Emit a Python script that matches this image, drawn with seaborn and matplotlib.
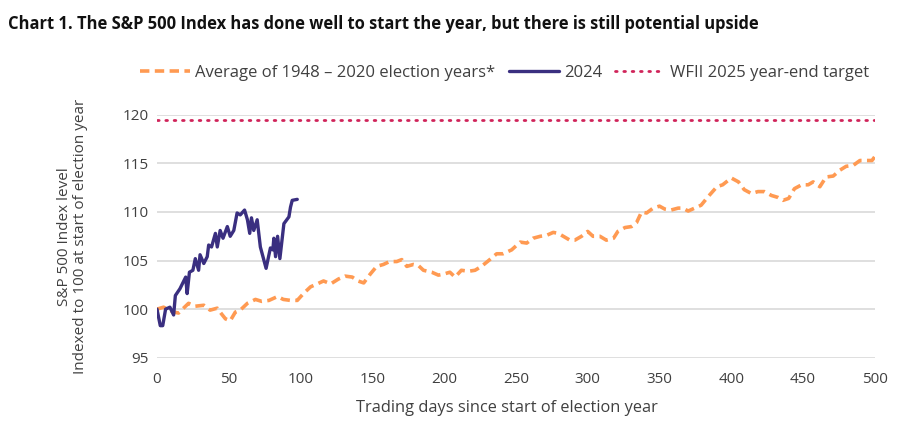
import numpy as np
import pandas as pd
import matplotlib
matplotlib.use('Agg')
import matplotlib.pyplot as plt
import seaborn as sns

# 平均选举年走势 (1948-2020)
avg_days = [0, 4.6, 11.6, 15, 22, 26.7, 32.6, 37, 42, 45, 47.7, 51, 54.6, 58, 63, 68.6, 73, 78, 84, 88,
            93, 97.7, 102, 107, 111.6, 116, 121, 126.4, 131, 136, 140, 144, 148.5, 153, 157.7, 162, 167,
            170.5, 174, 178.6, 182, 185.6, 191.4, 196, 199.5, 204, 207.6, 212, 217, 221.5, 226, 231,
            236.6, 241, 247, 253, 257.5, 262, 267, 271.4, 276, 279.5, 283, 287.6, 291, 295.7, 300,
            303.7, 308.5, 313, 318, 321, 326, 330.5, 334, 337.5, 341, 345.6, 350, 353.7, 358, 363, 366,
            370, 374.5, 379, 384, 390, 394, 400, 405, 409, 414, 418.6, 423, 428, 432.5, 436, 440, 444,
            449, 453.6, 457, 461.7, 466, 471, 475.6, 480, 485, 489.6, 494, 498, 500]
avg_vals = [100, 100.2, 99.7, 99.6, 100.6, 100.3, 100.4, 99.9, 100.1, 99.5, 99.0, 98.8, 99.7, 99.9, 100.6,
            101.0, 100.8, 100.9, 101.3, 101.0, 100.9, 100.9, 101.6, 102.3, 102.6, 102.9, 102.6, 103.1,
            103.4, 103.3, 102.9, 102.7, 103.6, 104.4, 104.6, 104.9, 104.9, 105.1, 104.4, 104.6, 104.5,
            104.0, 103.8, 103.5, 103.6, 103.8, 103.3, 104.0, 103.9, 104.0, 104.4, 105.0, 105.7, 105.7,
            106.1, 106.9, 106.8, 107.3, 107.5, 107.6, 107.9, 107.8, 107.5, 107.1, 107.1, 107.5, 108.0,
            107.5, 107.5, 107.1, 107.3, 108.0, 108.4, 108.5, 108.9, 110.0, 109.9, 110.4, 110.6, 110.3,
            110.2, 110.4, 110.4, 110.1, 110.4, 110.7, 111.6, 112.6, 112.8, 113.5, 113.1, 112.3, 111.9,
            112.1, 112.1, 111.7, 111.5, 111.2, 111.4, 112.4, 112.8, 112.8, 113.1, 112.6, 113.6, 113.7,
            114.3, 114.7, 114.8, 115.3, 115.3, 115.3, 115.7]

# 2024年走势
days_2024 = [0, 2.3, 4, 6, 9, 11.6, 12.8, 16, 20, 21, 22.6, 25, 26.7, 29, 30, 32.6, 35, 36, 38, 40.7, 42,
             44, 46, 49, 51, 53.5, 55.8, 58, 61, 63, 64.6, 65.8, 67.4, 69.8, 72, 76, 79, 80.7, 81.4,
             82.6, 84, 85.6, 88.4, 91.9, 93, 94.2, 97.7]
vals_2024 = [100, 98.3, 98.3, 100, 100.2, 99.4, 101.4, 102.1, 103.3, 101.6, 103.8, 104, 105.2, 104, 105.6,
             104.7, 105.4, 106.6, 106.4, 107.8, 106.4, 108.1, 107.3, 108.5, 107.5, 108.1, 109.9, 109.7,
             110.2, 109.2, 107.8, 109.4, 108.1, 109.2, 106.4, 104.2, 106.3, 106.1, 107.3, 105.4, 107.5,
             105.2, 108.8, 109.5, 110.5, 111.2, 111.3]

target_2025 = 119.5

labels = ['Average of 1948 – 2020 election years*', '2024', 'WFII 2025 year-end target']
colors = ['#FF9A52', '#3A2F80', '#D0245A']

sns.set_theme(style='white')
plt.rcParams['font.family'] = ['Open Sans', 'DejaVu Sans']

fig = plt.figure(figsize=(9.18, 4.4), dpi=100)
ax = fig.add_axes([0.171, 0.187, 0.782, 0.552])

df_avg = pd.DataFrame({'day': avg_days, 'val': avg_vals})
df_24 = pd.DataFrame({'day': days_2024, 'val': vals_2024})

sns.lineplot(data=df_avg, x='day', y='val', ax=ax, color=colors[0], lw=2.6,
             label=labels[0], dashes=False)
ax.lines[-1].set_dashes([2.6, 1.5])
sns.lineplot(data=df_24, x='day', y='val', ax=ax, color=colors[1], lw=2.4, label=labels[1])
ax.axhline(target_2025, xmin=0, xmax=1, color=colors[2], lw=2.0, ls=(0, (0.6, 2.4)),
           dash_capstyle='round', label=labels[2])

ax.set_xlim(0, 500)
ax.set_ylim(95, 120)
ax.set_xticks(np.arange(0, 501, 50))
ax.set_yticks(np.arange(95, 121, 5))
ax.grid(axis='y', color='#d9d9d9', lw=1.2)
ax.set_axisbelow(True)
for s in ax.spines.values():
    s.set_visible(False)
ax.tick_params(axis='both', length=0, labelsize=11, colors='#404040', pad=6)
ax.tick_params(axis='x', pad=10)

ax.set_xlabel('Trading days since start of election year', fontsize=11.8, color='#404040', labelpad=12)
ax.xaxis.set_label_coords(0.487, -0.175)
ax.set_ylabel('S&P 500 Index level\nIndexed to 100 at start of election year', fontsize=11,
              color='#404040', labelpad=25, linespacing=1.1)

ax.legend(loc='center', bbox_to_anchor=(0.55, 0.835), bbox_transform=fig.transFigure, ncol=3,
          frameon=False, fontsize=12, handlelength=3.0, handletextpad=0.3, columnspacing=0.8,
          labelcolor='#404040')

# 标题宽度按参考图调整
title = fig.text(0.009, 0.945,
                 'Chart 1. The S&P 500 Index has done well to start the year, but there is still potential upside',
                 fontsize=12, fontweight='bold', color='#111111', va='center')
fig.canvas.draw()
w = title.get_window_extent().width
title.set_fontsize(12 * 752 / w)

fig.savefig('out.png', dpi=100)
